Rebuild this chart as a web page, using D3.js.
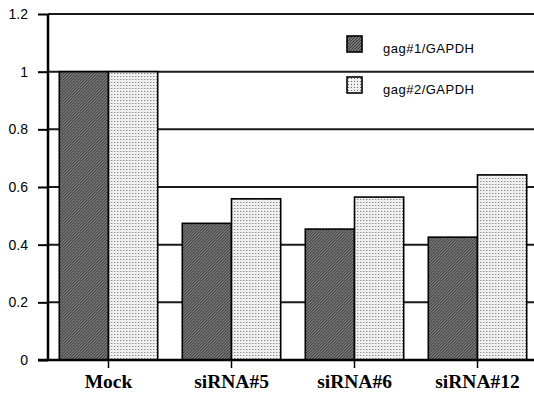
<!DOCTYPE html>
<html>
<head>
<meta charset="utf-8">
<script src="https://cdn.jsdelivr.net/npm/d3@7"></script>
<style>
  body { margin: 0; background: #fff; }
</style>
</head>
<body>
<div id="chart"></div>
<script>
// data
const categories = ["Mock", "siRNA#5", "siRNA#6", "siRNA#12"];
const seriesNames = ["gag#1/GAPDH", "gag#2/GAPDH"];
const gag1 = [1.0, 0.474, 0.454, 0.426];
const gag2 = [1.0, 0.559, 0.565, 0.642];
const yTicks = [0, 0.2, 0.4, 0.6, 0.8, 1, 1.2];
const yTickLabels = ["0", "0.2", "0.4", "0.6", "0.8", "1", "1.2"];

const width = 534, height = 395;

const svg = d3.select("#chart")
    .append("svg")
    .attr("width", width)
    .attr("height", height);

const defs = svg.append("defs");

// dark diagonal hatch
const hatch = defs.append("pattern")
    .attr("id", "hatch")
    .attr("patternUnits", "userSpaceOnUse")
    .attr("width", 3)
    .attr("height", 3);
hatch.append("rect").attr("width", 3).attr("height", 3).attr("fill", "#b4b4b4");
hatch.append("path")
    .attr("d", "M-1,1 l2,-2 M0,3 l3,-3 M2,4 l2,-2")
    .attr("stroke", "#333")
    .attr("stroke-width", 1.3);

// light dotted fill
const dots = defs.append("pattern")
    .attr("id", "dots")
    .attr("patternUnits", "userSpaceOnUse")
    .attr("width", 3)
    .attr("height", 3);
dots.append("rect").attr("width", 3).attr("height", 3).attr("fill", "#f0f0f0");
dots.append("rect").attr("x", 1).attr("y", 1).attr("width", 1).attr("height", 1).attr("fill", "#666");

const fills = ["url(#hatch)", "url(#dots)"];

const margin = { left: 48, top: 14, bottom: 360 };

const x = d3.scaleBand()
    .domain(categories)
    .range([47, 539])
    .paddingInner(0.2)
    .paddingOuter(0.1);

const xs = d3.scaleBand()
    .domain(seriesNames)
    .range([0, x.bandwidth()]);

const y = d3.scaleLinear()
    .domain([0, 1.2])
    .range([margin.bottom, margin.top]);

// gridlines
svg.append("g")
    .selectAll("line")
    .data(yTicks.slice(1))
    .enter().append("line")
    .attr("x1", margin.left)
    .attr("x2", width)
    .attr("y1", d => y(d))
    .attr("y2", d => y(d))
    .attr("stroke", "#1a1a1a")
    .attr("stroke-width", 2);

// bars
const rows = categories.map((c, i) => ({ cat: c, vals: [gag1[i], gag2[i]] }));

svg.append("g")
    .selectAll("g")
    .data(rows)
    .enter().append("g")
    .attr("transform", d => `translate(${x(d.cat)},0)`)
    .selectAll("rect")
    .data(d => d.vals.map((v, j) => ({ key: seriesNames[j], v: v, j: j })))
    .enter().append("rect")
    .attr("x", d => xs(d.key))
    .attr("y", d => y(d.v))
    .attr("width", xs.bandwidth())
    .attr("height", d => y(0) - y(d.v))
    .attr("fill", d => fills[d.j])
    .attr("stroke", "#000")
    .attr("stroke-width", 1.6);

// y axis
const yAxis = svg.append("g")
    .attr("transform", `translate(${margin.left},0)`)
    .call(d3.axisLeft(y)
        .tickValues(yTicks)
        .tickFormat((d, i) => yTickLabels[i])
        .tickSize(10)
        .tickPadding(10));

yAxis.select(".domain").attr("stroke-width", 2.5).attr("d", `M0,${y(0)}V${y(1.2)}`);
yAxis.selectAll(".tick line").attr("stroke-width", 2);
yAxis.selectAll("text")
    .attr("font-family", "Liberation Sans, Arial, sans-serif")
    .attr("font-size", 14)
    .attr("fill", "#000");

// x axis
const xAxis = svg.append("g")
    .attr("transform", `translate(0,${y(0)})`)
    .call(d3.axisBottom(x).tickSize(8).tickPadding(8));

xAxis.select(".domain").attr("stroke-width", 2.5).attr("d", `M38,0H${width}`);
xAxis.selectAll(".tick line").attr("stroke-width", 1.5);
xAxis.selectAll("text")
    .attr("font-family", "Liberation Serif, Times New Roman, serif")
    .attr("font-weight", "bold")
    .attr("font-size", 19.5)
    .attr("fill", "#000")
    .attr("dy", null)
    .attr("y", 28);

// legend
const legend = svg.append("g")
    .selectAll("g")
    .data(seriesNames)
    .enter().append("g")
    .attr("transform", (d, i) => `translate(347,${36 + i * 41})`);

legend.append("rect")
    .attr("width", 15)
    .attr("height", 16)
    .attr("fill", (d, i) => fills[i])
    .attr("stroke", "#000")
    .attr("stroke-width", 1.6);

legend.append("text")
    .attr("x", 36)
    .attr("y", 17)
    .attr("font-family", "Liberation Sans, Arial, sans-serif")
    .attr("font-size", 13)
    .attr("letter-spacing", 0.5)
    .text(d => d);
</script>
</body>
</html>
